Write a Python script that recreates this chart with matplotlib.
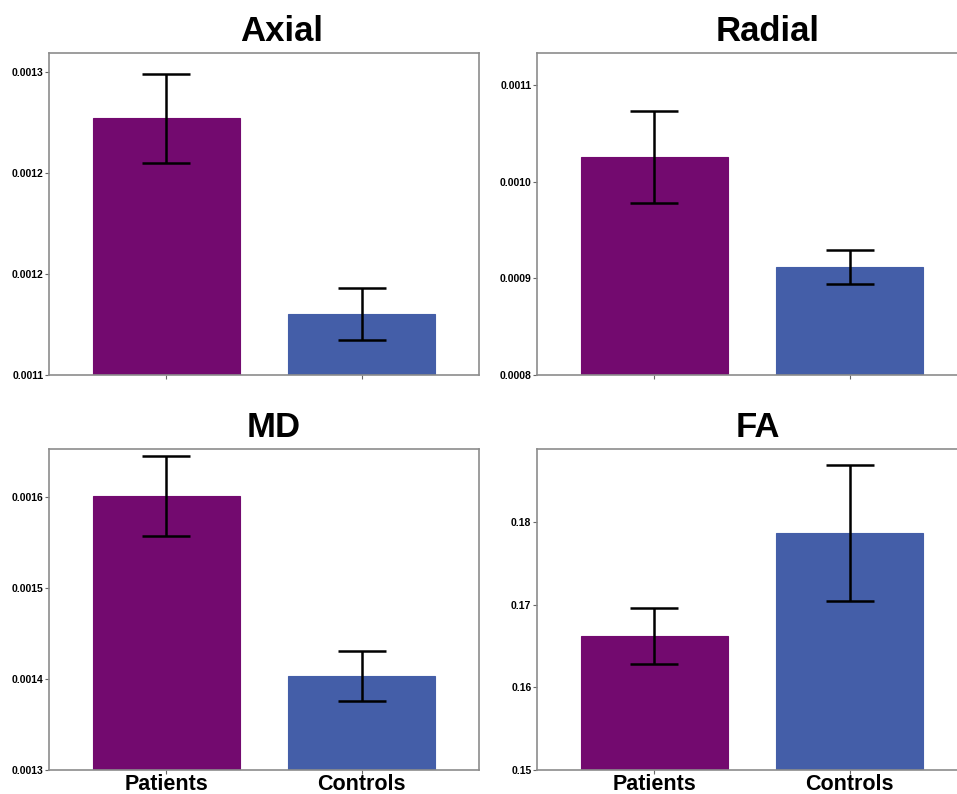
import numpy as np
import matplotlib
matplotlib.use("Agg")
import matplotlib.pyplot as plt

plt.rcParams['font.family'] = ['Liberation Sans', 'DejaVu Sans']

groups = ['Patients', 'Controls']
colors = ['#730a6f', '#445ea8']

axial_mean = [0.001277, 0.0011802]
axial_err = [0.000022, 0.0000129]
radial_mean = [0.0010254, 0.0009117]
radial_err = [0.0000475, 0.000018]
md_mean = [0.0016011, 0.0014033]
md_err = [0.0000435, 0.0000275]
fa_mean = [0.1662, 0.17866]
fa_err = [0.0034, 0.0082]

axial_ticks = [0.00115, 0.00120, 0.00125, 0.00130]
axial_labels = ['0.0011', '0.0012', '0.0012', '0.0013']
radial_ticks = [0.0008, 0.0009, 0.0010, 0.0011]
radial_labels = ['0.0008', '0.0009', '0.0010', '0.0011']
md_ticks = [0.0013, 0.0014, 0.0015, 0.0016]
md_labels = ['0.0013', '0.0014', '0.0015', '0.0016']
fa_ticks = [0.15, 0.16, 0.17, 0.18]
fa_labels = ['0.15', '0.16', '0.17', '0.18']

fig = plt.figure(figsize=(9.57, 7.94), dpi=100)

# panel: title, means, errors, ticks, labels, ylim, [left, bottom, w, h], title x
panels = [
    ('Axial', axial_mean, axial_err, axial_ticks, axial_labels, (0.00115, 0.0013094),
     [0.0512, 0.5277, 0.4493, 0.4055], 0.542, False),
    ('Radial', radial_mean, radial_err, radial_ticks, radial_labels, (0.0008, 0.001133),
     [0.5611, 0.5277, 0.4493, 0.4055], 0.537, False),
    ('MD', md_mean, md_err, md_ticks, md_labels, (0.0013, 0.0016527),
     [0.0512, 0.0302, 0.4493, 0.4043], 0.523, True),
    ('FA', fa_mean, fa_err, fa_ticks, fa_labels, (0.15, 0.18883),
     [0.5611, 0.0302, 0.4493, 0.4043], 0.514, True),
]

x = np.arange(len(groups))
for title, mean, err, ticks, labels, ylim, rect, tx, show_x in panels:
    ax = fig.add_axes(rect)
    ax.bar(x, mean, width=0.75, color=colors, edgecolor=colors, linewidth=0.8)
    ax.errorbar(x, mean, yerr=err, fmt='none', ecolor='black', elinewidth=1.8,
                capsize=17, capthick=1.8)
    ax.set_xlim(-0.6, 1.6)
    ax.set_ylim(*ylim)
    ax.set_yticks(ticks)
    ax.set_yticklabels(labels, fontsize=7.5, fontweight='bold')
    ax.set_xticks(x)
    if show_x:
        ax.set_xticklabels(groups, fontsize=15.5, fontweight='bold')
    else:
        ax.set_xticklabels([])
    ax.tick_params(axis='both', length=3, width=0.8, color='#666666', pad=1)
    ax.tick_params(axis='x', pad=0)
    for s in ax.spines.values():
        s.set_color('#8c8c8c')
        s.set_linewidth(1.2)
    ax.set_title(title, fontsize=25, fontweight='bold', x=tx, pad=9)

fig.savefig('out.png', dpi=100)
